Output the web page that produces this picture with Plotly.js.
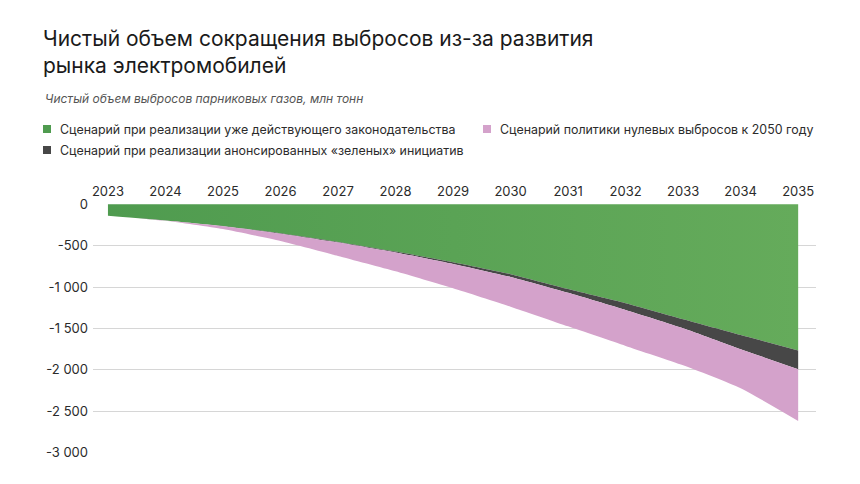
<!DOCTYPE html>
<html>
<head>
<meta charset="utf-8">
<script src="https://cdn.plot.ly/plotly-3.0.1.min.js"></script>
<style>
html,body{margin:0;padding:0;background:#fff;}
#chart{width:860px;height:484px;}
</style>
</head>
<body>
<div id="chart"></div>
<script>
// ---- data ----
const years = [2023, 2024, 2025, 2026, 2027, 2028, 2029, 2030, 2031, 2032, 2033, 2034, 2035];
const existingLaw = [-138, -195, -262, -350, -455, -572, -700, -845, -1025, -1196, -1390, -1580, -1768];
const announcedGreen = [-138, -197, -266, -355, -462, -582, -721, -878, -1070, -1277, -1498, -1751, -1993];
const netZero2050 = [-138, -200, -300, -445, -625, -810, -1015, -1237, -1475, -1711, -1945, -2222, -2617];

const seriesNames = [
  'Сценарий при реализации уже действующего законодательства',
  'Сценарий при реализации анонсированных «зеленых» инициатив',
  'Сценарий политики нулевых выбросов к 2050 году'
];
const yTickVals = [0, -500, -1000, -1500, -2000, -2500, -3000];
const yTickText = ['0', '-500', '-1 000', '-1 500', '-2 000', '-2 500', '-3 000'];
const titleText = 'Чистый объем сокращения выбросов из-за развития<br>рынка электромобилей';
const subtitleText = 'Чистый объем выбросов парниковых газов, млн тонн';

const FONT = 'Inter, "Noto Sans", sans-serif';
const cGreenL = '#4f9b4f', cGreenR = '#65ab5b', cDark = '#474747', cPink = '#d4a2cb';

const lineShape = {width: 0, shape: 'spline', smoothing: 0.5};
const traces = [
  {
    x: years, y: existingLaw, name: seriesNames[0], type: 'scatter', mode: 'lines',
    line: Object.assign({color: cGreenL}, lineShape), fill: 'tozeroy',
    fillgradient: {type: 'horizontal', colorscale: [[0, cGreenL], [1, cGreenR]]},
    hoverinfo: 'x+y', showlegend: false
  },
  {
    x: years, y: announcedGreen, name: seriesNames[1], type: 'scatter', mode: 'lines',
    line: Object.assign({color: cDark}, lineShape), fill: 'tonexty', fillcolor: cDark,
    hoverinfo: 'x+y', showlegend: false
  },
  {
    x: years, y: netZero2050, name: seriesNames[2], type: 'scatter', mode: 'lines',
    line: Object.assign({color: cPink}, lineShape), fill: 'tonexty', fillcolor: cPink,
    hoverinfo: 'x+y', showlegend: false
  }
];

// legend drawn as squares + text
const legendItems = [
  {name: seriesNames[0], color: cGreenL, x: 43, y: 129},
  {name: seriesNames[2], color: cPink, x: 483, y: 129},
  {name: seriesNames[1], color: cDark, x: 43, y: 150}
];
const W = 860, H = 484;
const ML = 93, MR = 44, MT = 204, MB = 31;
const px = v => (v - ML) / (W - ML - MR);
const py = v => (H - MB - v) / (H - MT - MB);
const shapes = [], annotations = [];
legendItems.forEach(it => {
  shapes.push({type: 'rect', xref: 'paper', yref: 'paper', layer: 'above',
    x0: px(it.x), x1: px(it.x + 8), y0: py(it.y + 4), y1: py(it.y - 4),
    fillcolor: it.color, line: {width: 0}});
  annotations.push({xref: 'paper', yref: 'paper', showarrow: false,
    x: px(it.x + 15), y: py(it.y), xanchor: 'left', yanchor: 'middle', text: it.name,
    font: {family: FONT, size: 12.4, color: '#2b2b2b'}});
});
annotations.push({xref: 'paper', yref: 'paper', showarrow: false,
  x: px(43), y: py(98), xanchor: 'left', yanchor: 'middle', text: '<i>' + subtitleText + '</i>',
  font: {family: FONT, size: 12, color: '#555'}});

const layout = {
  width: W, height: H,
  margin: {l: ML, r: MR, t: MT, b: MB},
  paper_bgcolor: '#fff', plot_bgcolor: '#fff',
  title: {text: titleText, x: 43 / W, xanchor: 'left', y: 1 - 46 / H, yanchor: 'top',
    font: {family: FONT, size: 21, color: '#1a1a1a'}},
  xaxis: {
    range: [2022.74, 2035.31], side: 'top', tickvals: years, ticktext: years.map(String),
    showgrid: false, zeroline: false, showline: false, ticks: '',
    tickfont: {family: FONT, size: 13, color: '#2b2b2b'}, ticklabelstandoff: 4, fixedrange: true
  },
  yaxis: {
    range: [-3005, 3], tickvals: yTickVals, ticktext: yTickText,
    showgrid: true, gridcolor: '#d6d6d6', gridwidth: 1, zeroline: false, showline: false,
    ticks: '', tickfont: {family: FONT, size: 13, color: '#2b2b2b'}, ticklabelstandoff: 4, fixedrange: true
  },
  showlegend: false,
  shapes: shapes,
  annotations: annotations
};

Plotly.newPlot('chart', traces, layout, {displayModeBar: false, staticPlot: true});
</script>
</body>
</html>
